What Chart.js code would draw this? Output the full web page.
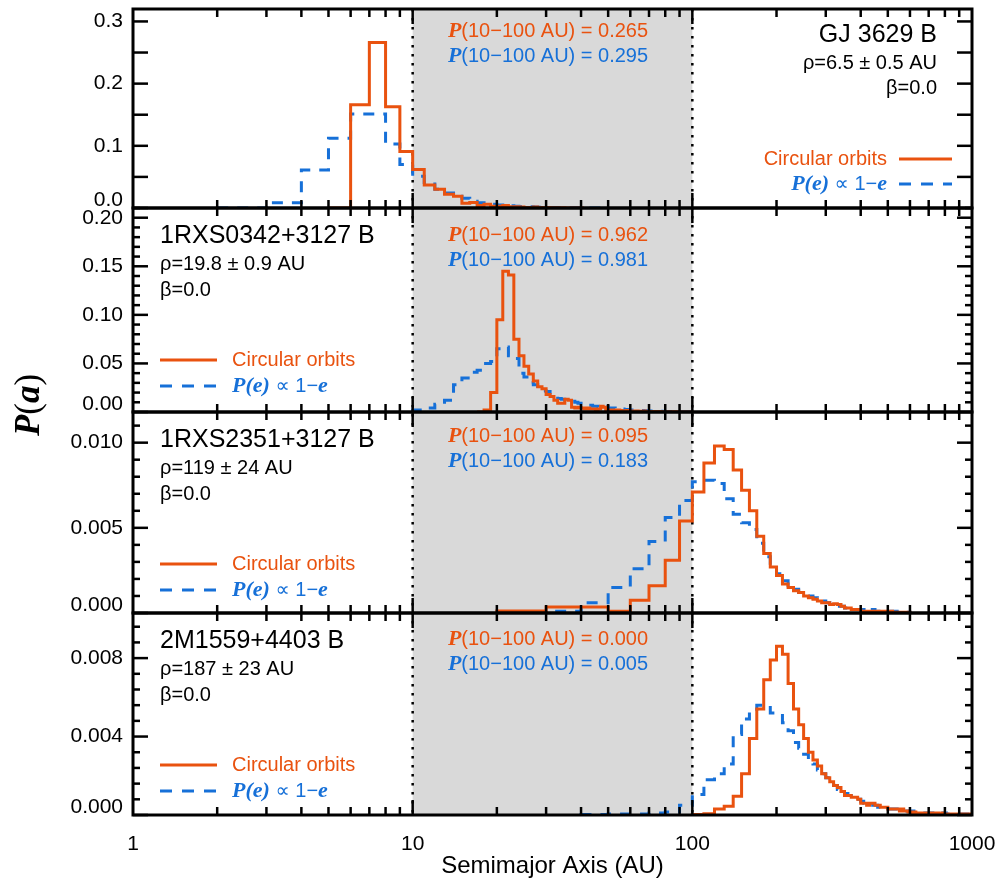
<!DOCTYPE html>
<html>
<head>
<meta charset="utf-8">
<title>P(a) semimajor axis</title>
<script src="https://cdn.jsdelivr.net/npm/chart.js@4.4.0/dist/chart.umd.min.js"></script>
<style>
  html, body { margin: 0; padding: 0; background: #fff; }
  #wrap { width: 1003px; height: 881px; }
</style>
</head>
<body>
<div id="wrap"><canvas id="semiChart" width="1003" height="881"></canvas></div>
<script>
// ============================================================
// DATA (histograms, bin start + bin width + values)
// ============================================================

const xTicks = [1, 10, 100, 1000];

// GJ 3629 B  (1 AU bins)
const gjCircStart = 5, gjEccStart = 2, gjBin = 1;
const gjCirc = [0, 0.166, 0.266, 0.163, 0.091, 0.062, 0.037, 0.030, 0.022, 0.019,
  0.0075, 0.009, 0.004, 0.006, 0.003, 0.003, 0.004, 0.002, 0.002, 0.0015,
  0.001, 0.001, 0.0015, 0.001, 0.0005, 0.0008, 0.0005, 0.0005, 0.0003, 0.0004,
  0.0002, 0.0002, 0.0001, 0.0002, 0.0001, 0];
const gjEcc = [0, 0.0085, 0.061, 0.112, 0.151, 0.151, 0.103, 0.070, 0.051, 0.041,
  0.030, 0.024, 0.019, 0.0155, 0.011, 0.0085, 0.007, 0.006, 0.005, 0.004,
  0.0035, 0.003, 0.0025, 0.002, 0.002, 0.0015, 0.0012, 0.001, 0.001, 0.0008,
  0.0007, 0.0006, 0.0005, 0.0005, 0.0004, 0.0003, 0.0003, 0.0002, 0.0002, 0.0002,
  0.0001, 0.0001, 0.0002, 0.0001, 0.0001, 0.0001, 0.0001, 0];

// 1RXS0342+3127 B  (1 AU bins)
const r0342CircStart = 17, r0342EccStart = 10, r0342Bin = 1;
const r0342Circ = [0, 0.002, 0.020, 0.095, 0.145, 0.141, 0.075, 0.058, 0.047, 0.039,
  0.032, 0.026, 0.024, 0.018, 0.016, 0.012, 0.009, 0.009, 0.013, 0.012,
  0.005, 0.004, 0.005, 0.004, 0.003, 0.004, 0.003, 0.003, 0.002, 0.003,
  0.006, 0.005, 0.002, 0.002, 0.0015, 0.002, 0.001, 0.002, 0.0015, 0.001,
  0.001, 0.0015, 0.001, 0.001, 0.001, 0.0008, 0.001, 0.0006, 0.0008, 0.0005,
  0.001, 0.0006, 0.0005, 0.0004, 0.0005, 0.0004, 0.0003, 0.0005, 0.0003, 0.0004,
  0.0003, 0.0002, 0.0003, 0.0002, 0.0002, 0.0002, 0.0001, 0.0002, 0.0001, 0.0002,
  0.0001, 0.0001, 0.0002, 0.0001, 0.0001, 0.0001, 0.0001, 0.0001, 0.0001, 0.0001,
  0.0001, 0.0001, 0.0001];
const r0342Ecc = [0.002, 0.004, 0.008, 0.012, 0.028, 0.035, 0.041, 0.043, 0.050, 0.052,
  0.065, 0.067, 0.058, 0.055, 0.040, 0.036, 0.030, 0.028, 0.024, 0.022,
  0.021, 0.018, 0.016, 0.014, 0.013, 0.012, 0.011, 0.011, 0.010, 0.009,
  0.008, 0.008, 0.007, 0.007, 0.006, 0.006, 0.005, 0.005, 0.005, 0.006,
  0.004, 0.004, 0.004, 0.003, 0.003, 0.003, 0.003, 0.0025, 0.0025, 0.002,
  0.002, 0.002, 0.002, 0.0018, 0.0015, 0.0015, 0.0015, 0.0012, 0.0012, 0.001,
  0.001, 0.001, 0.001, 0.0009, 0.0008, 0.0008, 0.0007, 0.0007, 0.0006, 0.0006,
  0.0005, 0.0005, 0.0005, 0.0004, 0.0004, 0.0004, 0.0004, 0.0003, 0.0003, 0.0003,
  0.0003, 0.0003, 0.0002, 0.0002, 0.0002, 0.0002, 0.0002, 0.0002, 0.0002, 0.0002];

// 1RXS2351+3127 B  (10 AU bins)
const r2351CircStart = 20, r2351EccStart = 20, r2351Bin = 10;
const r2351Circ = [0.00012, 0.00035, 0.00035, 0.0001, 0.00075, 0.0016, 0.0031, 0.0054, 0.0071, 0.0088,
  0.0098, 0.0096, 0.0084, 0.0072, 0.0060, 0.0045, 0.0035, 0.0027, 0.0022, 0.0017,
  0.0015, 0.0013, 0.0012, 0.0010, 0.0009, 0.0008, 0.0007, 0.0006, 0.0006, 0.0005,
  0.00055, 0.0005, 0.0004, 0.0003, 0.0003, 0.0002, 0.0002, 0.0002, 0.0001, 0.0001,
  0.0001, 0.0001, 0.0001, 0.0001, 0.0001, 0.0001, 0.0001, 0.0001, 0.00005, 0.0001,
  0.00005, 0.00005, 0.00005, 0.00005, 0.00005, 0.00005, 0.00005, 0.00005];
const r2351Ecc = [0, 0.0001, 0.0006, 0.0015, 0.0026, 0.0042, 0.0056, 0.0066, 0.0077, 0.0078,
  0.0076, 0.0067, 0.0058, 0.0053, 0.0049, 0.0041, 0.0033, 0.0028, 0.0023, 0.0019,
  0.0016, 0.0014, 0.0012, 0.0011, 0.0010, 0.0009, 0.0008, 0.0007, 0.0006, 0.0005,
  0.0005, 0.0004, 0.0004, 0.0003, 0.0003, 0.0003, 0.0002, 0.0002, 0.0002, 0.0002,
  0.0002, 0.0001, 0.0002, 0.0001, 0.0001, 0.0001, 0.0001, 0.0001, 0.0001, 0.0001,
  0.0001, 0.0001, 0.00005, 0.0001, 0.00005, 0.00005, 0.00005, 0.00005];

// 2M1559+4403 B  (10 AU bins)
const m1559CircStart = 100, m1559EccStart = 40, m1559Bin = 10;
const m1559Circ = [0.00003, 0.00006, 0.0003, 0.00045, 0.00096, 0.0021, 0.0039, 0.0054, 0.0069, 0.0079,
  0.0086, 0.0082, 0.0067, 0.0054, 0.0046, 0.0039, 0.0032, 0.0028, 0.0025, 0.0021,
  0.0019, 0.0017, 0.0015, 0.0014, 0.0012, 0.0010, 0.0010, 0.0009, 0.0009, 0.0008,
  0.0006, 0.0006, 0.0005, 0.0006, 0.0006, 0.0005, 0.0005, 0.0004, 0.0004, 0.0004,
  0.0003, 0.0003, 0.0003, 0.0003, 0.0003, 0.0002, 0.0003, 0.0002, 0.0002, 0.00015,
  0.00015, 0.0001, 0.00015, 0.0001, 0.0001, 0.0001, 0.0001, 0.0001, 0.0001, 0.0001,
  0.0001, 0.00005, 0.0001, 0.0001, 0.00005, 0.0001, 0.00005, 0.00005, 0.0001, 0.00005,
  0.00005, 0.00005, 0.00005, 0.00005, 0.00005, 0.00005, 0.00005, 0.00005, 0.00005, 0.00005,
  0.00005, 0.00005, 0.00005, 0.00005, 0.00005, 0.00005, 0.00005, 0.00005, 0.00005, 0.00005];
const m1559Ecc = [0.00003, 0.00005, 0.00005, 0.0001, 0.00015, 0.0005, 0.00105, 0.0018, 0.0021, 0.0026,
  0.0041, 0.0049, 0.0053, 0.0056, 0.0056, 0.0052, 0.0052, 0.0047, 0.0043, 0.0037,
  0.0034, 0.0031, 0.0028, 0.0026, 0.0023, 0.0021, 0.0019, 0.0017, 0.0015, 0.0013,
  0.0012, 0.0011, 0.0010, 0.0009, 0.0008, 0.0008, 0.0007, 0.0006, 0.0006, 0.0005,
  0.0005, 0.0005, 0.0004, 0.0004, 0.0004, 0.0003, 0.0003, 0.0003, 0.0003, 0.0003,
  0.0002, 0.0002, 0.0002, 0.0002, 0.0002, 0.0002, 0.0002, 0.0002, 0.00015, 0.00015,
  0.00015, 0.0001, 0.0001, 0.0001, 0.0001, 0.0001, 0.0001, 0.0001, 0.0001, 0.0001,
  0.0001, 0.0001, 0.00005, 0.0001, 0.00005, 0.00005, 0.0001, 0.00005, 0.00005, 0.00005,
  0.00005, 0.00005, 0.00005, 0.00005, 0.00005, 0.00005, 0.00005, 0.00005, 0.00005, 0.00005,
  0.00005, 0.00005, 0.00005, 0.00005, 0.00005, 0.00005];

// panel labels
const panelIds = ['gj', 'r0342', 'r2351', 'm1559'];
const panelNames = ['GJ 3629 B', '1RXS0342+3127 B', '1RXS2351+3127 B', '2M1559+4403 B'];
const panelRho = ['ρ=6.5 ± 0.5 AU', 'ρ=19.8 ± 0.9 AU', 'ρ=119 ± 24 AU', 'ρ=187 ± 23 AU'];
const panelBeta = ['β=0.0', 'β=0.0', 'β=0.0', 'β=0.0'];
const probCirc = ['0.265', '0.962', '0.095', '0.000'];
const probEcc = ['0.295', '0.981', '0.183', '0.005'];

// y axes
const yMax = [0.32, 0.21, 0.0118, 0.0103];
const yLabelStep = [0.1, 0.05, 0.005, 0.004];
const yTickStep = [0.05, 0.05, 0.005, 0.004];
const yMinorPer = [1, 5, 5, 5];
const yDecimals = [1, 2, 3, 3];
const panelWeights = [199, 204, 201, 202];


// ============================================================
// STYLE
// ============================================================

const SANS = '"Liberation Sans", Arial, Helvetica, "DejaVu Sans", sans-serif';
const SERIF = '"Liberation Serif", "Times New Roman", "DejaVu Serif", serif';
const ORANGE = '#e9520f';
const BLUE = '#1670d8';
const BAND = '#d9d9d9';
const DASH = [11, 9];
const TICK_FONT = { family: SANS, size: 21 };


function histPoints(start, width, vals) {
    const pts = [{ x: start, y: 0 }];
    vals.forEach((v, i) => pts.push({ x: start + i * width, y: v }));
    const end = start + vals.length * width;
    pts.push({ x: end, y: vals[vals.length - 1] });
    pts.push({ x: end, y: 0 });
    return pts;
}

function histSet(label, pts, axis, dashed) {
    return {
        label: label,
        data: pts,
        yAxisID: axis,
        borderColor: dashed ? BLUE : ORANGE,
        borderWidth: 3,
        borderDash: dashed ? DASH : [],
        stepped: 'before',
        pointRadius: 0,
        fill: false,
        tension: 0
    };
}

function drawRuns(ctx, runs, x, y, align) {
    let total = 0;
    runs.forEach(r => { ctx.font = r[1]; total += ctx.measureText(r[0]).width; });
    let cx = align === 'right' ? x - total : align === 'center' ? x - total / 2 : x;
    runs.forEach(r => {
        ctx.font = r[1];
        ctx.fillStyle = r[2];
        ctx.textAlign = 'left';
        ctx.fillText(r[0], cx, y);
        cx += ctx.measureText(r[0]).width;
    });
}

function seg(ctx, x1, y1, x2, y2) {
    ctx.beginPath();
    ctx.moveTo(x1, y1);
    ctx.lineTo(x2, y2);
    ctx.stroke();
}


// ============================================================
// PLUGIN : bande grise, cadres, ticks, textes
// ============================================================

const panelDecor = {
    id: 'panelDecor',

    beforeDatasetsDraw(chart) {
        const { ctx, scales } = chart;
        const xs = scales.x;
        const x10 = xs.getPixelForValue(10), x100 = xs.getPixelForValue(100);
        ctx.save();
        panelIds.forEach(id => {
            const s = scales[id];
            ctx.fillStyle = BAND;
            ctx.fillRect(x10, s.top, x100 - x10, s.bottom - s.top);
        });
        ctx.strokeStyle = '#000';
        ctx.lineWidth = 2.5;
        ctx.setLineDash([2.5, 6.5]);
        const top = scales[panelIds[0]].top, bot = scales[panelIds[3]].bottom;
        seg(ctx, x10, top, x10, bot);
        seg(ctx, x100, top, x100, bot);
        ctx.restore();
    },

    afterDatasetsDraw(chart) {
        const { ctx, chartArea, scales } = chart;
        const xs = scales.x;
        const L = chartArea.left, R = chartArea.right;
        ctx.save();
        ctx.strokeStyle = '#000';

        panelIds.forEach((id, i) => {
            const s = scales[id];
            const top = s.top, bot = s.bottom;

            // y ticks (inward, both sides)
            ctx.lineWidth = 2.5;
            const minor = yTickStep[i] / yMinorPer[i];
            for (let k = 0; k * minor <= yMax[i] + 1e-12; k++) {
                const py = s.getPixelForValue(k * minor);
                const len = k % yMinorPer[i] === 0 ? 15 : 7;
                seg(ctx, L, py, L + len, py);
                seg(ctx, R, py, R - len, py);
            }

            // x ticks (inward, top and bottom)
            for (let dec = 1; dec < 1000; dec *= 10) {
                for (let m = 2; m <= 10; m++) {
                    const v = m * dec;
                    if (v >= 1000) continue;
                    const px = xs.getPixelForValue(v);
                    const len = m === 10 ? 15 : 8;
                    seg(ctx, px, top, px, top + len);
                    seg(ctx, px, bot, px, bot - len);
                }
            }

            ctx.lineWidth = 3;
            ctx.strokeRect(L, top, R - L, bot - top);
        });
        ctx.restore();
    },

    afterDraw(chart) {
        const { ctx, scales } = chart;
        ctx.save();
        ctx.textBaseline = 'middle';

        const titleFont = '25px ' + SANS;
        const smallFont = '20px ' + SANS;
        const pFont = 'bold italic 22px ' + SERIF;
        const pRows = [[22, 47], [27, 52], [24, 49], [26, 51]];

        panelIds.forEach((id, i) => {
            const s = scales[id];
            const t = s.top;

            // label du zero, un peu remonte (comme l'original)
            drawRuns(ctx, [[(0).toFixed(yDecimals[i]), TICK_FONT.size + 'px ' + SANS, '#000']],
                s.left + s.width - 10, s.getPixelForValue(0) - 8, 'right');

            // probabilites dans la bande 10-100 AU
            drawRuns(ctx, [['P', pFont, ORANGE], ['(10−100 AU) = ' + probCirc[i], smallFont, ORANGE]], 548, t + pRows[i][0], 'center');
            drawRuns(ctx, [['P', pFont, BLUE], ['(10−100 AU) = ' + probEcc[i], smallFont, BLUE]], 548, t + pRows[i][1], 'center');

            const eccRuns = [['P(e)', pFont, BLUE], [' ∝ 1−', smallFont, BLUE], ['e', pFont, BLUE]];

            if (i === 0) {
                // GJ 3629 B : texte a droite
                drawRuns(ctx, [[panelNames[i], titleFont, '#000']], 937, t + 26, 'right');
                drawRuns(ctx, [[panelRho[i], smallFont, '#000']], 937, t + 54, 'right');
                drawRuns(ctx, [[panelBeta[i], smallFont, '#000']], 937, t + 79, 'right');

                drawRuns(ctx, [['Circular orbits', smallFont, ORANGE]], 887, t + 150, 'right');
                drawRuns(ctx, eccRuns, 887, t + 175, 'right');
                ctx.lineWidth = 3;
                ctx.strokeStyle = ORANGE;
                seg(ctx, 899, t + 150, 952, t + 150);
                ctx.strokeStyle = BLUE;
                ctx.setLineDash([12, 10]);
                seg(ctx, 899, t + 175, 952, t + 175);
                ctx.setLineDash([]);
            } else {
                drawRuns(ctx, [[panelNames[i], titleFont, '#000']], 160, t + 28, 'left');
                drawRuns(ctx, [[panelRho[i], smallFont, '#000']], 160, t + 56, 'left');
                drawRuns(ctx, [[panelBeta[i], smallFont, '#000']], 160, t + 82, 'left');

                drawRuns(ctx, [['Circular orbits', smallFont, ORANGE]], 232, t + 152, 'left');
                drawRuns(ctx, eccRuns, 232, t + 178, 'left');
                ctx.lineWidth = 3;
                ctx.strokeStyle = ORANGE;
                seg(ctx, 160, t + 152, 217, t + 152);
                ctx.strokeStyle = BLUE;
                ctx.setLineDash([12, 10]);
                seg(ctx, 160, t + 178, 218, t + 178);
                ctx.setLineDash([]);
            }
        });

        // titre de l'axe y
        ctx.translate(30, 405);
        ctx.rotate(-Math.PI / 2);
        drawRuns(ctx, [['P', 'bold italic 35px ' + SERIF, '#000'], ['(', '35px ' + SERIF, '#000'],
            ['a', 'bold italic 35px ' + SERIF, '#000'], [')', '35px ' + SERIF, '#000']], 0, 0, 'center');
        ctx.restore();
    }
};


// ============================================================
// CHART
// ============================================================

const yScales = {};
panelIds.forEach((id, i) => {
    yScales[id] = {
        type: 'linear',
        position: 'left',
        stack: 'panels',
        stackWeight: panelWeights[i],
        weight: 10 - i,
        min: 0,
        max: yMax[i],
        grid: { display: false, drawTicks: false },
        border: { display: false },
        afterFit: s => {
            s.width = 133;
            s.paddingTop = 0;
            s.paddingBottom = 0;
        },
        ticks: {
            stepSize: yLabelStep[i],
            includeBounds: false,
            autoSkip: false,
            padding: 10,
            color: '#000',
            font: TICK_FONT,
            // le zero est dessine a part (plugin)
            callback: v => (v === 0 ? '' : Number(v).toFixed(yDecimals[i]))
        }
    };
});

const ctx = document.getElementById('semiChart');

new Chart(ctx, {
    type: 'line',
    data: {
        datasets: [
            histSet('GJ circ', histPoints(gjCircStart, gjBin, gjCirc), 'gj', false),
            histSet('GJ ecc', histPoints(gjEccStart, gjBin, gjEcc), 'gj', true),
            histSet('0342 circ', histPoints(r0342CircStart, r0342Bin, r0342Circ), 'r0342', false),
            histSet('0342 ecc', histPoints(r0342EccStart, r0342Bin, r0342Ecc), 'r0342', true),
            histSet('2351 circ', histPoints(r2351CircStart, r2351Bin, r2351Circ), 'r2351', false),
            histSet('2351 ecc', histPoints(r2351EccStart, r2351Bin, r2351Ecc), 'r2351', true),
            histSet('1559 circ', histPoints(m1559CircStart, m1559Bin, m1559Circ), 'm1559', false),
            histSet('1559 ecc', histPoints(m1559EccStart, m1559Bin, m1559Ecc), 'm1559', true)
        ]
    },
    options: {
        responsive: false,
        animation: false,
        devicePixelRatio: 1,
        layout: { padding: { left: 0, right: 31, top: 9, bottom: 0 } },
        plugins: {
            legend: { display: false },
            title: { display: false },
            tooltip: { enabled: false }
        },
        scales: Object.assign({
            x: {
                type: 'logarithmic',
                position: 'bottom',
                min: 1,
                max: 1000,
                grid: { display: false, drawTicks: false },
                border: { display: false },
                afterFit: s => {
                    s.height = 66;
                    s.paddingLeft = 0;
                    s.paddingRight = 0;
                },
                afterBuildTicks: s => { s.ticks = xTicks.map(v => ({ value: v })); },
                ticks: {
                    autoSkip: false,
                    maxRotation: 0,
                    padding: 17,
                    color: '#000',
                    font: TICK_FONT,
                    callback: v => String(v)
                },
                title: {
                    display: true,
                    text: 'Semimajor Axis (AU)',
                    color: '#000',
                    font: { family: SANS, size: 24 },
                    padding: { top: 0, bottom: 0 }
                }
            }
        }, yScales)
    },
    plugins: [panelDecor]
});
</script>
</body>
</html>
